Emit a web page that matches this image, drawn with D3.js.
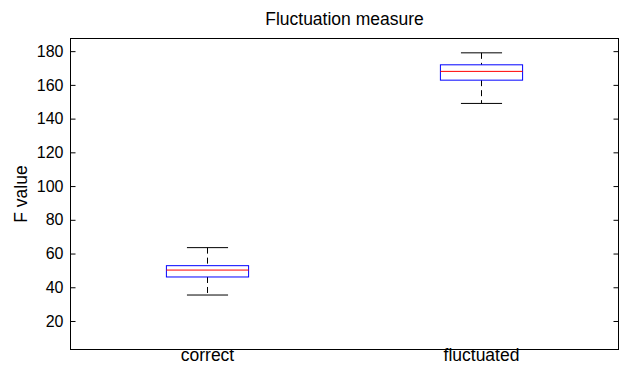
<!DOCTYPE html>
<html><head><meta charset="utf-8">
<script src="https://cdn.jsdelivr.net/npm/d3@7"></script>
<style>body{margin:0;background:#fff}text{font-family:"Liberation Sans",Arial,Helvetica,sans-serif}</style>
</head><body><svg id="c" width="621" height="365"></svg>
<script>
const categories = ["correct", "fluctuated"];
const lowerWhisker = [35.4, 149.0];
const q1 = [46.1, 162.8];
const median = [50.2, 168.0];
const q3 = [52.8, 171.9];
const upperWhisker = [63.5, 179.0];
const yTicks = [20, 40, 60, 80, 100, 120, 140, 160, 180];

const svg = d3.select("#c");
const L = 70.5, R = 618.5, T = 38.5, B = 349.5;
const x = d3.scaleLinear().domain([0.5, 2.5]).range([L, R]);
const y = d3.scaleLinear().domain([3.1, 187.5]).range([B, T]);
const bw = 0.3, cw = 0.15;

// frame
svg.append("rect").attr("x", L).attr("y", T).attr("width", R - L).attr("height", B - T)
  .attr("fill", "none").attr("stroke", "#000").attr("stroke-width", 1);

// y axis ticks left & right
const ax = svg.append("g").attr("transform", `translate(${L},0)`)
  .call(d3.axisLeft(y).tickValues(yTicks).tickSize(-5).tickPadding(7).tickFormat(d3.format("d")));
ax.select(".domain").remove();
ax.selectAll("text").attr("font-size", 16).attr("fill", "#000").attr("font-family", '"Liberation Sans",Arial,sans-serif');
ax.selectAll("line").attr("stroke", "#000");
const ax2 = svg.append("g").attr("transform", `translate(${R},0)`)
  .call(d3.axisRight(y).tickValues(yTicks).tickSize(-5).tickFormat(""));
ax2.select(".domain").remove();
ax2.selectAll("line").attr("stroke", "#000");

const data = categories.map((c, i) => ({c, i: i + 1, lo: lowerWhisker[i], q1: q1[i], med: median[i], q3: q3[i], hi: upperWhisker[i]}));
const g = svg.append("g");
data.forEach(d => {
  // whiskers
  g.append("line").attr("x1", x(d.i)).attr("x2", x(d.i)).attr("y1", y(d.hi)).attr("y2", y(d.q3))
    .attr("stroke", "#000").attr("stroke-dasharray", "6,4");
  g.append("line").attr("x1", x(d.i)).attr("x2", x(d.i)).attr("y1", y(d.q1)).attr("y2", y(d.lo))
    .attr("stroke", "#000").attr("stroke-dasharray", "6,4");
  // caps
  [d.hi, d.lo].forEach(v => g.append("line").attr("x1", x(d.i - cw / 2)).attr("x2", x(d.i + cw / 2))
    .attr("y1", y(v)).attr("y2", y(v)).attr("stroke", "#000"));
  // box
  g.append("rect").attr("x", x(d.i - bw / 2)).attr("width", x(d.i + bw / 2) - x(d.i - bw / 2))
    .attr("y", y(d.q3)).attr("height", y(d.q1) - y(d.q3)).attr("fill", "none").attr("stroke", "#0000ff");
  // median
  g.append("line").attr("x1", x(d.i - bw / 2)).attr("x2", x(d.i + bw / 2))
    .attr("y1", y(d.med)).attr("y2", y(d.med)).attr("stroke", "#ff0000");
  // category label
  svg.append("text").attr("x", x(d.i)).attr("y", 361).attr("text-anchor", "middle")
    .attr("font-size", 17.5).text(d.c);
});

svg.append("text").attr("x", (L + R) / 2).attr("y", 25).attr("text-anchor", "middle")
  .attr("font-size", 17.5).text("Fluctuation measure");
svg.append("text").attr("transform", `translate(27,${(T + B) / 2}) rotate(-90)`).attr("text-anchor", "middle")
  .attr("font-size", 17.5).text("F value");
</script></body></html>
